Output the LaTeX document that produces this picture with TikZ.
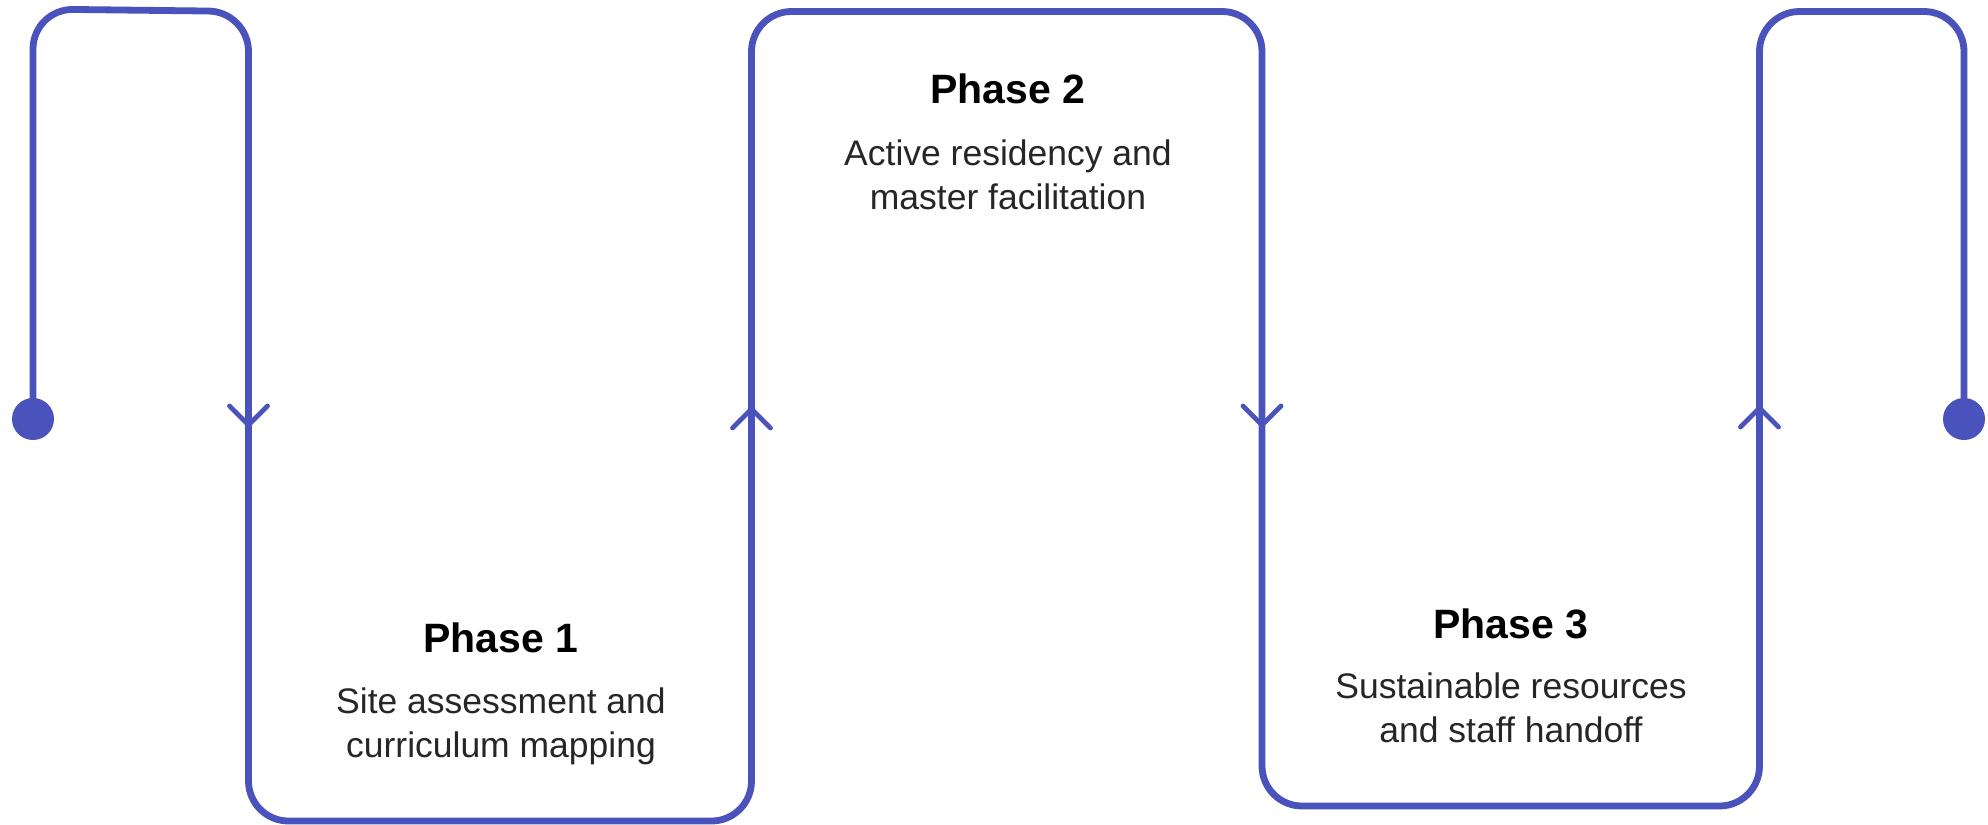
\documentclass[tikz,border=0pt]{standalone}
\usepackage{fontspec}
\setmainfont{Liberation Sans}
\begin{document}
\begin{tikzpicture}[x=0.5pt,y=-0.5pt]
\definecolor{flowblue}{RGB}{74,82,188}
\definecolor{bodygray}{RGB}{38,38,38}
\tikzset{
  flow/.style={draw=flowblue,line width=3.4pt,rounded corners=20pt},
  chev/.style={draw=flowblue,line width=2.4pt,line cap=round,line join=round},
  enddot/.style={circle,fill=flowblue,inner sep=0pt,minimum size=21pt},
  ttl/.style={anchor=base,inner sep=0pt,font=\fontsize{20.5}{24}\selectfont\bfseries,text=black},
  bdy/.style={anchor=base,inner sep=0pt,font=\fontsize{17.75}{22}\selectfont,text=bodygray}
}
\useasboundingbox (0,0) rectangle (1988,825);
% corner coordinates
\coordinate (s) at (33,419);
\coordinate (e) at (1964,419);
\coordinate (a1) at (33,9);
\coordinate (a2) at (248.5,11.5);
\coordinate (a3) at (248.5,821);
\coordinate (a4) at (751.5,821);
\coordinate (a5) at (751.5,11.5);
\coordinate (a6) at (1262,11.5);
\coordinate (a7) at (1262,806);
\coordinate (a8) at (1759.5,806);
\coordinate (a9) at (1759.5,11.5);
\coordinate (a10) at (1964,11.5);
% flow line
\draw[flow] (s) -- (a1) -- (a2) -- (a3) -- (a4) -- (a5) -- (a6) -- (a7) -- (a8) -- (a9) -- (a10) -- (e);
% end dots
\node[enddot] (sdot) at (s) {};
\node[enddot] (edot) at (e) {};
% chevrons
\coordinate (d1) at (248.5,425);
\coordinate (u1) at (751.5,409);
\coordinate (d2) at (1262,425);
\coordinate (u2) at (1759.5,408);
\foreach \t in {d1,d2}{
  \draw[chev] ([shift={(-19,-19)}]\t) -- (\t) -- ([shift={(19,-19)}]\t);
}
\foreach \t in {u1,u2}{
  \draw[chev] ([shift={(-19,19)}]\t) -- (\t) -- ([shift={(19,19)}]\t);
}
% texts
\node[ttl] (p1t) at (501,652) {Phase 1};
\node[bdy] (p1a) at (501,713) {Site assessment and};
\node[bdy] (p1b) at (501,757) {curriculum mapping};
\node[ttl] (p2t) at (1008,103) {Phase 2};
\node[bdy] (p2a) at (1008,165) {Active residency and};
\node[bdy] (p2b) at (1008,209) {master facilitation};
\node[ttl] (p3t) at (1511,638) {Phase 3};
\node[bdy] (p3a) at (1511,698) {Sustainable resources};
\node[bdy] (p3b) at (1511,742) {and staff handoff};
\end{tikzpicture}
\end{document}
